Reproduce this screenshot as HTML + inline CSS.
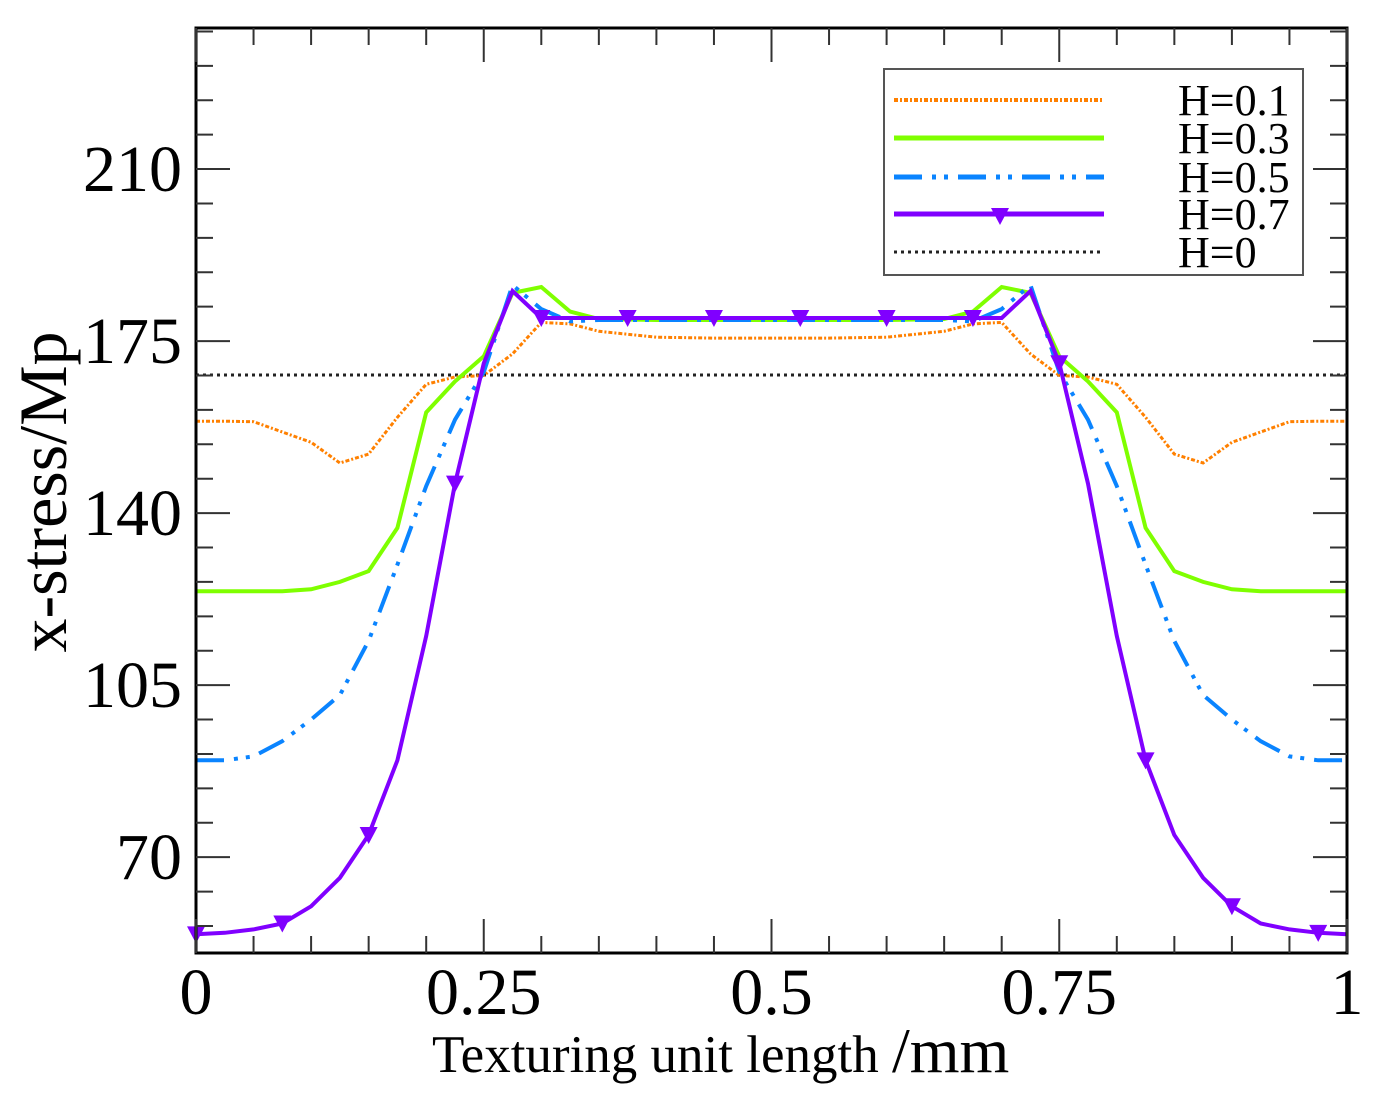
<!DOCTYPE html>
<html><head><meta charset="utf-8"><style>
html,body{margin:0;padding:0;background:#fff;}
svg{display:block;font-family:"Liberation Serif",serif;}
</style></head><body>
<svg id="chart" width="1375" height="1097" viewBox="0 0 1375 1097" xmlns="http://www.w3.org/2000/svg">
<g id="grid"></g>
<g id="series"></g>
<rect x="196" y="28" width="1151" height="925" fill="none" stroke="#000" stroke-width="3"/>
<g id="ticks"></g>
<text transform="translate(66,492) rotate(-90)" text-anchor="middle" font-size="68">x-stress/Mp</text>
<text x="432" y="1072" font-size="53">Texturing unit length <tspan font-size="64">/mm</tspan></text>
<g id="legend">
<rect x="884" y="69" width="419" height="206" fill="#fff" stroke="#555" stroke-width="2"/>
</g>
</svg>
<script>
const xs = [0,0.025,0.05,0.075,0.1,0.125,0.15,0.175,0.2,0.225,0.25,0.275,0.3,0.325,0.35,0.4,0.45,0.5];
const h01 = [158.7,158.7,158.6,156.5,154.4,150.2,152.0,159.5,166.2,167.7,168.0,172.4,178.8,178.5,177.0,175.8,175.6,175.6];
const h03 = [124.1,124.1,124.1,124.1,124.5,126.0,128.2,137.0,160.5,166.8,171.9,184.8,186.0,181.0,179.5,179.3,179.3,179.3];
const h05 = [89.7,89.7,90.5,93.6,98.0,103.0,114.0,129.5,145.5,159.0,168.7,186.4,181.5,179.0,179.3,179.3,179.3,179.3];
const h07 = [54.3,54.6,55.3,56.5,60.0,65.8,74.5,89.7,115.0,146.0,170.5,185.2,179.7,179.7,179.7,179.7,179.7,179.7];
const h0 = 168.1;
const yTicks = [70,105,140,175,210];
const xTicks = [0,0.25,0.5,0.75,1];
const xTickLabels = ["0","0.25","0.5","0.75","1"];
const markerXs = [0,0.075,0.15,0.225,0.3,0.375,0.45,0.525,0.6,0.675,0.75,0.825,0.9,0.975];

const X0=196,X1=1347,Y0=953,Y1=28;
const ymin=50.5, ymax=238.7;
const sx = v => X0 + v*(X1-X0);
const sy = v => Y0 - (v-ymin)/(ymax-ymin)*(Y0-Y1);
const NS="http://www.w3.org/2000/svg";
function mk(tag, attrs, parent){const e=document.createElementNS(NS,tag);for(const k in attrs)e.setAttribute(k,attrs[k]);parent.appendChild(e);return e;}

function full(arr){const px=[],py=[];for(let i=0;i<xs.length;i++){px.push(xs[i]);py.push(arr[i]);}
 for(let i=xs.length-2;i>=0;i--){px.push(1-xs[i]);py.push(arr[i]);}return [px,py];}
function interp(arr,x){const xx=x>0.5?1-x:x;for(let i=0;i<xs.length-1;i++){if(xx>=xs[i]&&xx<=xs[i+1]){const t=(xx-xs[i])/(xs[i+1]-xs[i]);return arr[i]+t*(arr[i+1]-arr[i]);}}return arr[arr.length-1];}

const ticks=document.getElementById('ticks');
for(let v=56;v<=238;v+=7){
  const major=yTicks.includes(v);const L=major?34:17;
  const t1=mk('line',{x1:X0,x2:X0+L,y1:sy(v),y2:sy(v),stroke:'#333','stroke-width':2},ticks);
  
  
  const t2=mk('line',{x1:X1,x2:X1-L,y1:sy(v),y2:sy(v),stroke:'#333','stroke-width':2},ticks);
  
  
}
yTicks.forEach(v=>{const t=mk('text',{x:182,y:sy(v)+22,'text-anchor':'end','font-size':66},ticks);t.textContent=v;
  
  });
for(let i=0;i<=20;i++){const v=i*0.05;const major=i%5===0;const L=major?34:17;
  const t1=mk('line',{x1:sx(v),x2:sx(v),y1:Y0,y2:Y0-L,stroke:'#333','stroke-width':2},ticks);
  
  
  const t2=mk('line',{x1:sx(v),x2:sx(v),y1:Y1,y2:Y1+L,stroke:'#333','stroke-width':2},ticks);
  
  
}
xTicks.forEach((v,i)=>{const t=mk('text',{x:sx(v),y:1014,'text-anchor':'middle','font-size':66},ticks);t.textContent=xTickLabels[i];
  
  });

const ser=document.getElementById('series');
function path(arr,style,name){const [px,py]=full(arr);let d='';px.forEach((x,i)=>{d+=(i?'L':'M')+sx(x).toFixed(1)+','+sy(py[i]).toFixed(1);});
  const p=mk('path',Object.assign({d:d,fill:'none'},style),ser);
  
  }
const h0l=mk('line',{x1:X0,x2:X1,y1:sy(h0),y2:sy(h0),stroke:'#222','stroke-width':3,'stroke-dasharray':'3 4'},ser);


path(h01,{stroke:'#ff8000','stroke-width':3,'stroke-dasharray':'4 2 2 2'},'series-h01');
path(h03,{stroke:'#7fff00','stroke-width':4},'series-h03');
path(h05,{stroke:'#0a84ff','stroke-width':4,'stroke-dasharray':'28 10 4 8 4 10'},'series-h05');
path(h07,{stroke:'#8000ff','stroke-width':4},'series-h07');
function tri(cx,cy,parent){return mk('path',{d:`M${cx-9},${cy-8}L${cx+9},${cy-8}L${cx},${cy+9}Z`,fill:'#8000ff'},parent);}
markerXs.forEach(x=>{const m=tri(sx(x),sy(interp(h07,x)),ser);
  
  });

const lg=document.getElementById('legend');
const legItems=[["H=0.1",{stroke:'#ff8000','stroke-width':4,'stroke-dasharray':'4 2 2 2'}],
 ["H=0.3",{stroke:'#7fff00','stroke-width':5}],
 ["H=0.5",{stroke:'#0a84ff','stroke-width':5,'stroke-dasharray':'28 10 4 8 4 10'}],
 ["H=0.7",{stroke:'#8000ff','stroke-width':5}],
 ["H=0",{stroke:'#222','stroke-width':3,'stroke-dasharray':'3 4'}]];
const rows=[100,138,177,214,252];
legItems.forEach((it,i)=>{const l=mk('line',Object.assign({x1:894,x2:1104,y1:rows[i],y2:rows[i]},it[1]),lg);
  
  
  if(i===3){const m=tri(1000,rows[i]+2,lg);}
  const t=mk('text',{x:1178,y:rows[i]+15,'font-size':44},lg);t.textContent=it[0];
  
  });
</script>
</body></html>
